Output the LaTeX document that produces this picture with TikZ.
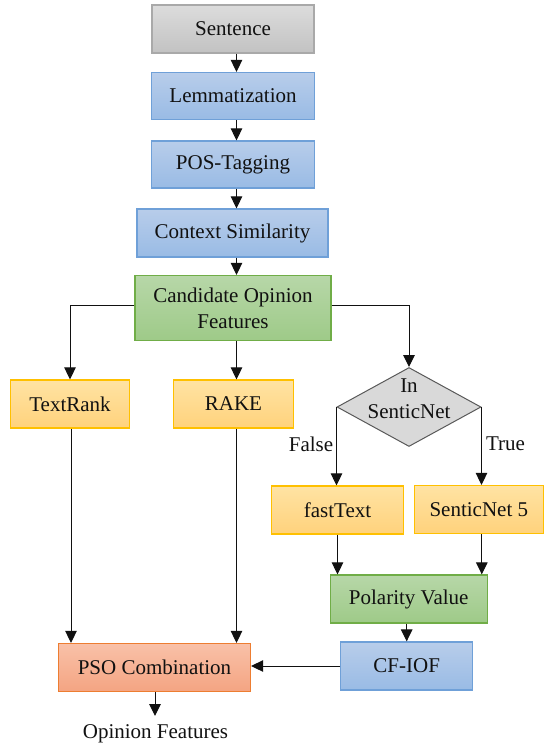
\documentclass[tikz,border=0pt]{standalone}
\usepackage{fontspec}
\setmainfont{Liberation Serif}
\usetikzlibrary{arrows.meta,shapes.geometric,calc}

% box fills (top -> bottom gradient) and borders
\definecolor{grayT}{HTML}{DCDCDC}\definecolor{grayB}{HTML}{C2C2C2}\definecolor{grayL}{HTML}{A9A9A9}
\definecolor{blueT}{HTML}{B8CDEA}\definecolor{blueB}{HTML}{99BBE5}\definecolor{blueL}{HTML}{6FA0D8}
\definecolor{grnT}{HTML}{B7D7A8}\definecolor{grnB}{HTML}{9ECA88}\definecolor{grnL}{HTML}{70AD47}
\definecolor{ylwT}{HTML}{FFE3A3}\definecolor{ylwB}{HTML}{FFD27C}\definecolor{ylwL}{HTML}{FFC000}
\definecolor{orgT}{HTML}{F9C1A8}\definecolor{orgB}{HTML}{F4A482}\definecolor{orgL}{HTML}{ED7D31}
\definecolor{dmdF}{HTML}{D9D9D9}\definecolor{dmdL}{HTML}{595959}
\definecolor{ink}{HTML}{111111}

\tikzset{
  every node/.style={font=\fontsize{21}{26}\selectfont, text=ink},
  box/.style={rectangle, line width=1.2pt, inner sep=0pt, align=center},
  graybox/.style={box, draw=grayL, top color=grayT, bottom color=grayB},
  bluebox/.style={box, draw=blueL, top color=blueT, bottom color=blueB},
  greenbox/.style={box, draw=grnL, top color=grnT, bottom color=grnB},
  yellowbox/.style={box, draw=ylwL, top color=ylwT, bottom color=ylwB},
  orangebox/.style={box, draw=orgL, top color=orgT, bottom color=orgB},
  decision/.style={diamond, draw=dmdL, fill=dmdF, line width=1pt, inner sep=0pt},
  arr/.style={draw=ink, line width=1pt, -{Triangle[width=11.5pt,length=12pt]}}
}

\begin{document}
\begin{tikzpicture}[x=1pt, y=-1pt]
\useasboundingbox (0,0) rectangle (544,748);

% main preprocessing column
\node[graybox,  minimum width=162pt, minimum height=48pt] (s)    at (233,29)    {Sentence};
\node[bluebox,  minimum width=163pt, minimum height=47pt] (l)    at (233,96)    {Lemmatization};
\node[bluebox,  minimum width=163pt, minimum height=47pt] (p)    at (233,164.5) {POS-Tagging};
\node[bluebox,  minimum width=191pt, minimum height=48pt] (c)    at (232.5,233) {Context Similarity};
\node[greenbox, minimum width=196pt, minimum height=65pt] (cand) at (233,308)   {Candidate Opinion\\Features};
\coordinate (spx) at (236.5,0);

% extraction branches
\node[yellowbox, minimum width=119pt, minimum height=48pt] (tr) at (70,404)    {TextRank};
\node[yellowbox, minimum width=120pt, minimum height=48pt] (rk) at (233.5,404) {RAKE};

% SenticNet decision
\node[decision, minimum width=144pt, minimum height=79pt] (d) at (409,407) {};
\node[align=center, inner sep=0pt] (dt) at (409,398.5) {In\\SenticNet};

\node[yellowbox, minimum width=132pt, minimum height=48pt] (ft) at (337.5,510)   {fastText};
\node[yellowbox, minimum width=129pt, minimum height=48pt] (sn) at (478.8,509.5) {SenticNet 5};
\node[greenbox,  minimum width=157pt, minimum height=48pt] (pv) at (408.7,599)   {Polarity Value};
\node[bluebox,   minimum width=132pt, minimum height=48pt] (cf) at (406.7,666)   {CF-IOF};
\node[orangebox, minimum width=192pt, minimum height=48pt] (pso) at (154.5,667.5) {PSO Combination};

\node[inner sep=0pt] (out) at (155.5,734) {Opinion Features};
\coordinate (outtip) at (155,716);

\node[inner sep=0pt] (fl) at (311,444)   {False};
\node[inner sep=0pt] (tl) at (505.5,444) {True};

% connectors along the main column
\draw[arr] (s.south -| spx) -- (l.north -| spx);
\draw[arr] (l.south -| spx) -- (p.north -| spx);
\draw[arr] (p.south -| spx) -- (c.north -| spx);
\draw[arr] (c.south -| spx) -- (cand.north -| spx);

% fan-out from the candidate features
\draw[arr] ([yshift=3pt]cand.west) -| (tr.north);
\draw[arr] (cand.south -| spx) -- (rk.north -| spx);
\draw[arr] ([yshift=3pt]cand.east) -| (d.north);

% decision outcomes
\draw[arr] (d.west) -- (d.west |- ft.north);
\draw[arr] (d.east) -- (d.east |- sn.north);

% polarity path
\draw[arr] ([xshift=3pt]sn.south) -- ([xshift=3pt]sn.south |- pv.north);
\draw[arr] (ft.south) -- (ft.south |- pv.north);
\draw[arr] (pv.south -| cf.north) -- (cf.north);

% combination
\draw[arr] ([xshift=1pt]tr.south) -- ([xshift=1pt]tr.south |- pso.north);
\draw[arr] (rk.south -| spx) -- (pso.north -| spx);
\draw[arr] (cf.west) -- (cf.west -| pso.east);
\draw[arr] (pso.south -| outtip) -- (outtip);
\end{tikzpicture}
\end{document}
